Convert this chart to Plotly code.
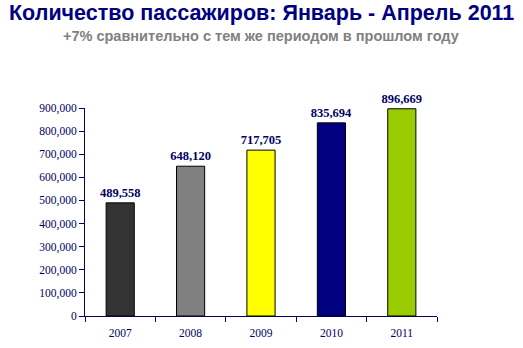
import plotly.graph_objects as go

years = ["2007", "2008", "2009", "2010", "2011"]
passengers = [489558, 648120, 717705, 835694, 896669]
bar_colors = ["#333333", "#808080", "#FFFF00", "#000080", "#99CC00"]
tick_vals = [0, 100000, 200000, 300000, 400000, 500000, 600000, 700000, 800000, 900000]
tick_text = ["0", "100,000", "200,000", "300,000", "400,000", "500,000", "600,000", "700,000", "800,000", "900,000"]
title_text = "Количество пассажиров: Январь - Апрель 2011"
subtitle_text = "+7% сравнительно с тем же периодом в прошлом году"

navy = "#000066"

fig = go.Figure(go.Bar(
    x=years, y=passengers,
    marker=dict(color=bar_colors, line=dict(color="#000000", width=1)),
    width=0.4,
    text=[f"{v:,}" for v in passengers],
    texttemplate="<b>%{text}</b>",
    textposition="outside",
    constraintext="none",
    cliponaxis=False,
    textfont=dict(family="Liberation Serif", size=12.5, color=navy),
))

fig.update_layout(
    width=523, height=348,
    margin=dict(l=85, r=86, t=108, b=32),
    paper_bgcolor="white", plot_bgcolor="white",
    showlegend=False,
    font=dict(family="Liberation Serif", size=11.5, color=navy),
)
fig.add_annotation(text=f"<b>{title_text}</b>",
                   x=0.5, y=1.0, xref="paper", yref="paper", xanchor="center", yanchor="bottom",
                   yshift=81, showarrow=False,
                   font=dict(family="Liberation Sans", size=21.5, color="#000080"))
fig.add_annotation(text=f"<b>{subtitle_text}</b>",
                   x=0.5, y=1.0, xref="paper", yref="paper", xanchor="center", yanchor="bottom",
                   yshift=62, showarrow=False,
                   font=dict(family="Liberation Sans", size=14.5, color="#808080"))

fig.update_xaxes(
    automargin=False,
    showline=True, linecolor=navy, linewidth=1,
    ticks="outside", ticklen=5, tickcolor=navy, tickson="boundaries",
    ticklabelstandoff=6,
    showgrid=False, tickfont=dict(family="Liberation Serif", size=11.5, color=navy),
)
fig.update_yaxes(
    automargin=False,
    range=[0, 900000], tickvals=tick_vals, ticktext=tick_text,
    showline=True, linecolor=navy, linewidth=1,
    ticks="outside", ticklen=5, tickcolor=navy,
    showgrid=False, zeroline=False,
    tickfont=dict(family="Liberation Serif", size=11.5, color=navy),
)

fig.write_html("out.html")
